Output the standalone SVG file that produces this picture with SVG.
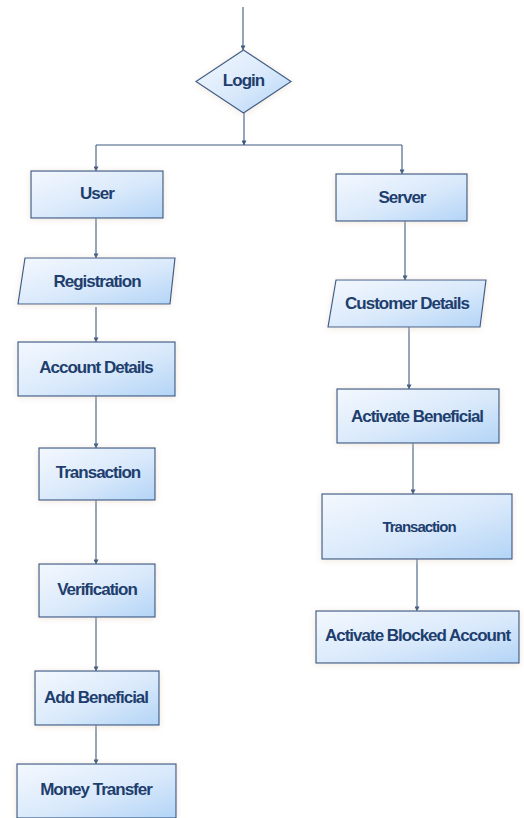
<svg xmlns="http://www.w3.org/2000/svg" width="524" height="818" viewBox="0 0 524 818">
  <style>
    .shape { fill: url(#boxFill); stroke: #3e5f8a; stroke-width: 1.2; filter: url(#halo); }
    .label { font-family: "Liberation Sans", Arial, sans-serif; font-weight: bold; font-size: 17px; letter-spacing: -1px; fill: #1e3e6e; text-anchor: middle; dominant-baseline: central; }
    .small { font-size: 15px; }
    .edge { fill: none; stroke: #3d5a80; stroke-width: 1.1; marker-end: url(#tip); }
  </style>
  <defs>
    <linearGradient id="boxFill" x1="0" y1="0" x2="1" y2="1">
      <stop offset="0" stop-color="#f4f8fe"/>
      <stop offset="0.55" stop-color="#d9e9fb"/>
      <stop offset="1" stop-color="#b3d4f6"/>
    </linearGradient>
    <filter id="halo" x="-20%" y="-30%" width="140%" height="160%">
      <feDropShadow dx="0" dy="1" stdDeviation="3" flood-color="#d9c9b4" flood-opacity="0.45"/>
    </filter>
    <marker id="tip" viewBox="0 0 6 6" refX="5.5" refY="3" markerWidth="5" markerHeight="5" markerUnits="userSpaceOnUse" orient="auto">
      <path d="M0 0 L6 3 L0 6 Z" fill="#3d5a80"/>
    </marker>
  </defs>

  <!-- connectors -->
  <g id="connectors">
    <path class="edge" d="M243 7 V50"/>
    <path class="edge" d="M244 113 V145"/>
    <path fill="none" stroke="#3d5a80" stroke-width="1.1" d="M96 145 H402"/>
    <path class="edge" d="M96 145 V171"/>
    <path class="edge" d="M402 145 V174"/>
    <path class="edge" d="M96 218 V258"/>
    <path class="edge" d="M96 307 V342"/>
    <path class="edge" d="M96 396 V448"/>
    <path class="edge" d="M96 500 V564"/>
    <path class="edge" d="M96 617 V671"/>
    <path class="edge" d="M96 725 V764"/>
    <path class="edge" d="M405 221 V280"/>
    <path class="edge" d="M409 327 V389"/>
    <path class="edge" d="M413 443 V494"/>
    <path class="edge" d="M417 559 V611"/>
  </g>

  <!-- login decision -->
  <g id="login">
    <polygon class="shape" points="243.5,50 291,81.5 243.5,113 196,81.5"/>
    <text class="label" x="243.5" y="80">Login</text>
  </g>

  <!-- user branch -->
  <g id="user">
    <rect class="shape" x="31" y="171" width="132" height="47"/>
    <text class="label" x="97" y="193">User</text>
  </g>
  <g id="registration">
    <polygon class="shape" points="25,258 175,258 170,304 18,304"/>
    <text class="label" x="97" y="281">Registration</text>
  </g>
  <g id="account-details">
    <rect class="shape" x="18" y="342" width="157" height="54"/>
    <text class="label" x="96" y="367">Account Details</text>
  </g>
  <g id="transaction-user">
    <rect class="shape" x="39" y="448" width="116" height="52"/>
    <text class="label" x="98" y="472">Transaction</text>
  </g>
  <g id="verification">
    <rect class="shape" x="39" y="564" width="116" height="53"/>
    <text class="label" x="97" y="589">Verification</text>
  </g>
  <g id="add-beneficial">
    <rect class="shape" x="35" y="671" width="124" height="54"/>
    <text class="label" x="96" y="697">Add Beneficial</text>
  </g>
  <g id="money-transfer">
    <rect class="shape" x="17" y="764" width="159" height="54"/>
    <text class="label" x="96" y="789">Money Transfer</text>
  </g>

  <!-- server branch -->
  <g id="server">
    <rect class="shape" x="336" y="174" width="131" height="47"/>
    <text class="label" x="402" y="197">Server</text>
  </g>
  <g id="customer-details">
    <polygon class="shape" points="336,280 486,280 480,327 328,327"/>
    <text class="label" x="407" y="303">Customer Details</text>
  </g>
  <g id="activate-beneficial">
    <rect class="shape" x="337" y="389" width="162" height="54"/>
    <text class="label" x="417" y="416">Activate Beneficial</text>
  </g>
  <g id="transaction-server">
    <rect class="shape" x="322" y="494" width="190" height="65"/>
    <text class="label small" x="419" y="526">Transaction</text>
  </g>
  <g id="activate-blocked-account">
    <rect class="shape" x="316" y="611" width="203" height="52"/>
    <text class="label" x="417.5" y="635">Activate Blocked Account</text>
  </g>
</svg>
